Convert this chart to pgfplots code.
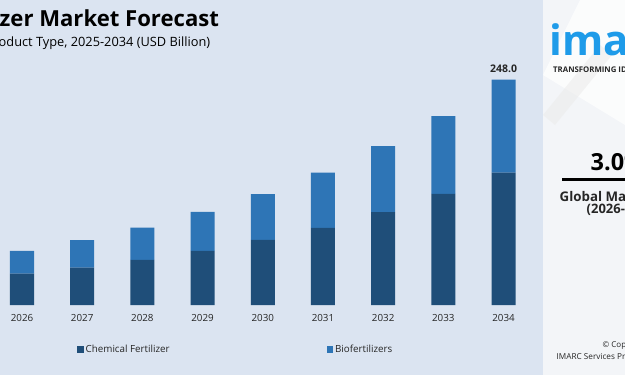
\documentclass[border=0pt]{standalone}
\usepackage{pgfplots}
\pgfplotsset{compat=1.18}
\usepackage{fontspec}
\setmainfont{Open Sans}
\definecolor{bg}{HTML}{DBE4F1}
\definecolor{panel}{HTML}{F3F5F8}
\definecolor{darkbar}{HTML}{1F4E79}
\definecolor{lightbar}{HTML}{2E75B6}
\definecolor{logo}{HTML}{1E9BE9}
\definecolor{txt}{HTML}{262626}
\begin{document}
\begin{tikzpicture}[x=1bp,y=1bp]
\path[use as bounding box] (0,0) rectangle (625,375);
\clip (0,0) rectangle (625,375);
\fill[bg] (0,0) rectangle (543,375);
\fill[panel] (543,0) rectangle (625,375);
\fill[white,opacity=0.7] (543,300) -- (580,375) -- (625,375) -- (625,250) -- cycle;
\fill[gray!15,opacity=0.6] (543,260) -- (600,330) -- (612,320) -- (555,250) -- cycle;
% title
\node[anchor=base west, inner sep=0, font=\fontsize{22.1bp}{25bp}\selectfont\bfseries, text=black] at (-0.5,349) {zer Market Forecast};
\node[anchor=base west, inner sep=0, font=\fontsize{12.8bp}{15bp}\selectfont, text=black] at (-1.5,329) {oduct Type, 2025-2034 (USD Billion)};
% right panel
\node[anchor=base west, inner sep=0, font=\fontsize{42bp}{46bp}\selectfont\bfseries, text=logo] at (549.5,320) {imarc};
\node[anchor=base west, inner sep=0, font=\fontsize{7.8bp}{9bp}\selectfont\bfseries, text=txt] at (553,303) {TRANSFORMING IDEAS INTO IMPACT};
\node[anchor=base west, inner sep=0, font=\fontsize{23.5bp}{26bp}\selectfont\bfseries, text=black] at (590.5,205) {3.0\%};
\draw[black, line width=3bp] (562,196) -- (640,196);
\node[anchor=base west, inner sep=0, font=\fontsize{13.3bp}{15bp}\selectfont\bfseries, text=txt] at (559.5,174) {Global Market Growth Rate};
\node[anchor=base west, inner sep=0, font=\fontsize{13bp}{15bp}\selectfont\bfseries, text=txt] at (586.5,162) {(2026-2034)};
\node[anchor=base west, inner sep=0, font=\fontsize{8bp}{9bp}\selectfont, text=txt] at (602.5,27.5) {\textcopyright\ Copyright 2025};
\node[anchor=base west, inner sep=0, font=\fontsize{8.2bp}{9bp}\selectfont, text=txt] at (556.5,15.5) {IMARC Services Private Limited};
\begin{axis}[
  at={(0,76.8)}, anchor=south west,
  scale only axis, width=543bp, height=254.6bp,
  xmin=2025.6345, xmax=2034.656, ymin=0, ymax=280,
  ybar stacked, bar width=24bp,
  axis line style={draw=none}, tick style={draw=none},
  ytick=\empty,
  xtick={2026,2027,2028,2029,2030,2031,2032,2033,2034},
  xticklabels={2026,2027,2028,2029,2030,2031,2032,2033,2034},
  xticklabel style={font=\fontsize{9.8bp}{12bp}\selectfont, text=txt, yshift=-6bp},
  clip=false,
  legend image code/.code={\fill[#1] (0bp,-3bp) rectangle (6.5bp,3.5bp);},
  legend columns=2,
  legend style={at={(0.1418,-0.176)}, anchor=west, draw=none, fill=none,
    font=\fontsize{9.8bp}{12bp}\selectfont, text=txt, inner sep=0pt,
    /tikz/every even column/.append style={column sep=155bp}},
]
\addplot[fill=darkbar, draw=none] coordinates {
 (2026,34.6) (2027,41.2) (2028,49.7) (2029,59.6) (2030,71.7)
 (2031,84.9) (2032,102.2) (2033,122.3) (2034,145.7)};
\addplot[fill=lightbar, draw=none] coordinates {
 (2026,25.0) (2027,30.2) (2028,35.5) (2029,42.9) (2030,50.3)
 (2031,60.8) (2032,72.6) (2033,85.5) (2034,102.3)};
\legend{Chemical Fertilizer,Biofertilizers}
\node[anchor=south, inner sep=0, yshift=6.5bp, font=\fontsize{10.5bp}{12bp}\selectfont\bfseries, text=txt] at (axis cs:2034,248) {248.0};
\end{axis}
\end{tikzpicture}
\end{document}
